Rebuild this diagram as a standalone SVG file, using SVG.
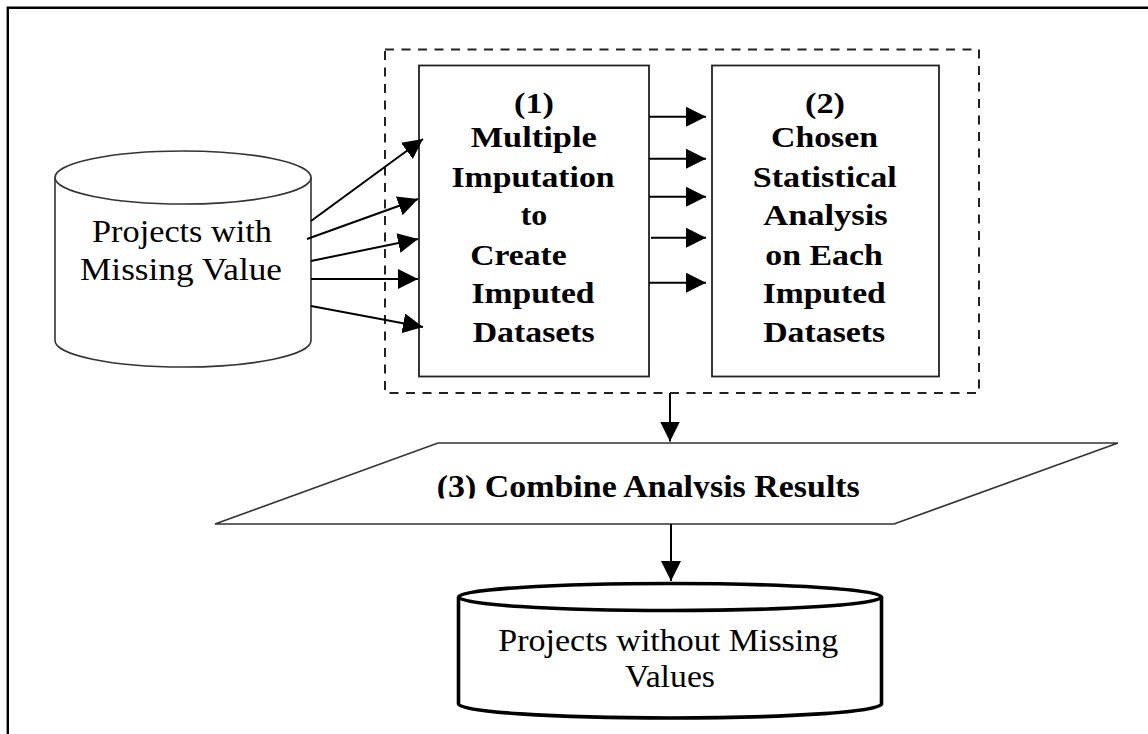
<svg xmlns="http://www.w3.org/2000/svg" width="1148" height="734" viewBox="0 0 1148 734">
  <defs>
    <style>
      .frame { fill: none; stroke: #000; stroke-width: 2.4; }
      .box { fill: #fff; stroke: #222; stroke-width: 1.8; }
      .group { fill: none; stroke: #222; stroke-width: 2; stroke-dasharray: 9 7.5; }
      .db { fill: #fff; stroke: #333; stroke-width: 1.6; }
      .db-thick { fill: #fff; stroke: #000; stroke-width: 3.6; }
      .para { fill: #fff; stroke: #333; stroke-width: 1.7; }
      .edge { fill: none; stroke: #000; stroke-width: 2; marker-end: url(#arrow); }
      .label { font-family: "Liberation Serif", "Times New Roman", serif; fill: #000; text-anchor: middle; }
      .bold { font-weight: bold; }
    </style>
    <marker id="arrow" markerUnits="userSpaceOnUse" viewBox="0 0 20 20" markerWidth="20" markerHeight="20" refX="20" refY="10" orient="auto">
      <path d="M0,0 L20,10 L0,20 z" fill="#000"/>
    </marker>
    <clipPath id="clip-combine">
      <rect x="300" y="460" width="700" height="38.5"/>
    </clipPath>
  </defs>

  <!-- page frame: top and left rules -->
  <path class="frame" d="M7.8,734 L7.8,7.8 L1148,7.8"/>

  <!-- dashed grouping around steps 1 and 2 -->
  <rect id="step-group" class="group" x="385" y="49.5" width="594" height="343.5"/>

  <!-- source database -->
  <g id="projects-with-missing">
    <path class="db" d="M55,177.5 L55,340.5 A128,26.5 0 0 0 311,340.5 L311,177.5"/>
    <ellipse class="db" cx="183" cy="177.5" rx="128" ry="26.5"/>
    <text class="label" font-size="32" x="182" y="241.5" textLength="180" lengthAdjust="spacingAndGlyphs">Projects with</text>
    <text class="label" font-size="32" x="181" y="279.5" textLength="202" lengthAdjust="spacingAndGlyphs">Missing Value</text>
  </g>

  <!-- step 1 -->
  <g id="step1-imputation">
    <rect class="box" x="419" y="65.5" width="230" height="311"/>
    <g class="label bold" font-size="30">
      <text x="534" y="112.5" textLength="40" lengthAdjust="spacingAndGlyphs">(1)</text>
      <text x="533.7" y="146.7" textLength="126" lengthAdjust="spacingAndGlyphs">Multiple</text>
      <text x="533" y="186.5" textLength="163" lengthAdjust="spacingAndGlyphs">Imputation</text>
      <text x="534" y="225" textLength="26.5" lengthAdjust="spacingAndGlyphs">to</text>
      <text x="518.5" y="265" textLength="96.5" lengthAdjust="spacingAndGlyphs">Create</text>
      <text x="533" y="303" textLength="123" lengthAdjust="spacingAndGlyphs">Imputed</text>
      <text x="533.7" y="341.5" textLength="122" lengthAdjust="spacingAndGlyphs">Datasets</text>
    </g>
  </g>

  <!-- step 2 -->
  <g id="step2-analysis">
    <rect class="box" x="712" y="65.5" width="227" height="311"/>
    <g class="label bold" font-size="30">
      <text x="825" y="112.5" textLength="40" lengthAdjust="spacingAndGlyphs">(2)</text>
      <text x="824.5" y="146.7" textLength="107" lengthAdjust="spacingAndGlyphs">Chosen</text>
      <text x="824.8" y="186.5" textLength="144" lengthAdjust="spacingAndGlyphs">Statistical</text>
      <text x="825.5" y="225" textLength="124.5" lengthAdjust="spacingAndGlyphs">Analysis</text>
      <text x="824" y="265" textLength="117.5" lengthAdjust="spacingAndGlyphs">on Each</text>
      <text x="824.2" y="303" textLength="123" lengthAdjust="spacingAndGlyphs">Imputed</text>
      <text x="824.2" y="341.5" textLength="122" lengthAdjust="spacingAndGlyphs">Datasets</text>
    </g>
  </g>

  <!-- step 3 -->
  <g id="step3-combine">
    <polygon class="para" points="438,443 1118,443 894,524 215,524"/>
    <text class="label bold" font-size="31" x="648.3" y="496.7" textLength="423" lengthAdjust="spacingAndGlyphs" clip-path="url(#clip-combine)">(3) Combine Analysis Results</text>
  </g>

  <!-- result database -->
  <g id="projects-without-missing">
    <path class="db-thick" d="M458.5,597 L458.5,704 A211.5,14 0 0 0 881.5,704 L881.5,597"/>
    <ellipse class="db-thick" cx="670" cy="597" rx="211.5" ry="13.5"/>
    <text class="label" font-size="32" x="668.3" y="651" textLength="340" lengthAdjust="spacingAndGlyphs">Projects without Missing</text>
    <text class="label" font-size="32" x="670" y="686.7" textLength="90" lengthAdjust="spacingAndGlyphs">Values</text>
  </g>

  <!-- connectors -->
  <g id="connectors">
    <line class="edge" x1="311" y1="221" x2="423" y2="139"/>
    <line class="edge" x1="307" y1="239" x2="418" y2="199"/>
    <line class="edge" x1="311" y1="261" x2="418" y2="239"/>
    <line class="edge" x1="311" y1="279" x2="418" y2="279"/>
    <line class="edge" x1="311" y1="306" x2="423" y2="327"/>

    <line class="edge" x1="649" y1="116.7" x2="706" y2="116.7"/>
    <line class="edge" x1="649" y1="158.7" x2="706" y2="158.7"/>
    <line class="edge" x1="649" y1="196.7" x2="706" y2="196.7"/>
    <line class="edge" x1="651" y1="237.7" x2="706" y2="237.7"/>
    <line class="edge" x1="649" y1="282.7" x2="706" y2="282.7"/>

    <line class="edge" x1="670" y1="393" x2="670" y2="441.5"/>
    <line class="edge" x1="671" y1="524" x2="671" y2="581"/>
  </g>
</svg>
